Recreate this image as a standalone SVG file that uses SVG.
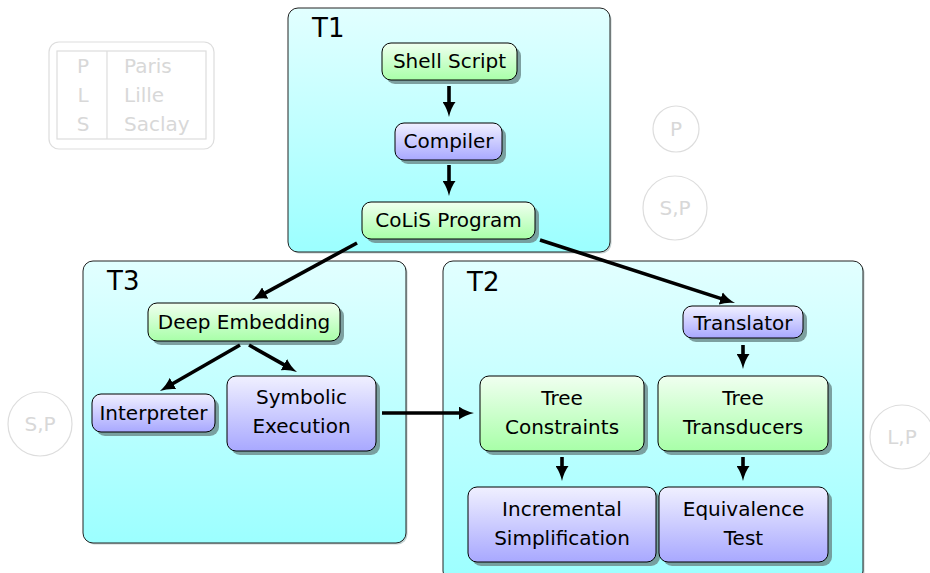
<svg xmlns="http://www.w3.org/2000/svg" width="930" height="573" viewBox="0 0 930 573">
<defs>
<linearGradient id="gBox" x1="0" y1="0" x2="0" y2="1"><stop offset="0" stop-color="#e2ffff"/><stop offset="1" stop-color="#9cffff"/></linearGradient>
<linearGradient id="gGreen" x1="0" y1="0" x2="0" y2="1"><stop offset="0" stop-color="#f0fff0"/><stop offset="1" stop-color="#a8ffa8"/></linearGradient>
<linearGradient id="gPurple" x1="0" y1="0" x2="0" y2="1"><stop offset="0" stop-color="#f0f0ff"/><stop offset="1" stop-color="#a8a8ff"/></linearGradient>
<marker id="ah" markerUnits="userSpaceOnUse" viewBox="0 0 15 13" refX="7" refY="6.5" markerWidth="15" markerHeight="13" orient="auto"><path d="M0,0 Q6,4.5 15,6.5 Q6,8.5 0,13 z" fill="#000"/></marker>
<style>
.box{fill:url(#gBox);stroke:#222;stroke-width:1}
.bshadow{fill:#7a9a9a;opacity:0.45}
.shadow{fill:#6f8f8f;opacity:0.85}
.green{fill:url(#gGreen);stroke:#000;stroke-width:1}
.purple{fill:url(#gPurple);stroke:#000;stroke-width:1}
text{font-family:"DejaVu Sans","Liberation Sans",sans-serif;fill:#000}
.t{font-size:20px;text-anchor:middle}
.title{font-size:26px}
.ghost{fill:none;stroke:#dddddd;stroke-width:1.2}
.gt{font-size:20px;fill:#d8d8d8;text-anchor:middle}
.gl{font-size:20px;fill:#d8d8d8}
.c{stroke:#000;stroke-width:3.6;fill:none;marker-end:url(#ah)}
</style>
</defs>

<g id="legend">
<rect class="ghost" x="49" y="42" width="165" height="107" rx="10"/>
<rect class="ghost" x="57" y="51" width="149" height="88"/>
<line class="ghost" x1="107" y1="51" x2="107" y2="139"/>
<text class="gt" x="83" y="73">P</text><text class="gl" x="124" y="73">Paris</text>
<text class="gt" x="83" y="102">L</text><text class="gl" x="124" y="102">Lille</text>
<text class="gt" x="83" y="131">S</text><text class="gl" x="124" y="131">Saclay</text>
</g>

<g id="circleP"><circle class="ghost" cx="676" cy="129" r="23"/><text class="gt" x="676" y="136">P</text></g>
<g id="circleSP1"><circle class="ghost" cx="675" cy="208" r="32"/><text class="gt" x="675" y="215">S,P</text></g>
<g id="circleSP2"><circle class="ghost" cx="40" cy="424" r="32"/><text class="gt" x="40" y="431">S,P</text></g>
<g id="circleLP"><circle class="ghost" cx="902" cy="437" r="32"/><text class="gt" x="902" y="444">L,P</text></g>

<g id="T1">
<rect class="bshadow" x="289.5" y="9.5" width="322" height="244" rx="10"/>
<rect class="box" x="288" y="8" width="322" height="244" rx="10"/>
<text class="title" x="312" y="37">T1</text>
</g>
<g id="T3">
<rect class="bshadow" x="84.5" y="262.5" width="323" height="282" rx="10"/>
<rect class="box" x="83" y="261" width="323" height="282" rx="10"/>
<text class="title" x="107" y="290">T3</text>
</g>
<g id="T2">
<rect class="bshadow" x="444.5" y="262.5" width="420" height="320" rx="10"/>
<rect class="box" x="443" y="261" width="420" height="320" rx="10"/>
<text class="title" x="467" y="291">T2</text>
</g>

<g id="shell">
<rect class="shadow" x="386" y="47" width="135" height="37" rx="9"/>
<rect class="green" x="382" y="43" width="135" height="37" rx="9"/>
<text class="t" x="449.5" y="68">Shell Script</text>
</g>
<g id="compiler">
<rect class="shadow" x="399" y="127" width="107" height="37" rx="9"/>
<rect class="purple" x="395" y="123" width="107" height="37" rx="9"/>
<text class="t" x="448.5" y="148">Compiler</text>
</g>
<g id="colis">
<rect class="shadow" x="366" y="206" width="173" height="37" rx="9"/>
<rect class="green" x="362" y="202" width="173" height="37" rx="9"/>
<text class="t" x="448.5" y="227">CoLiS Program</text>
</g>
<g id="deep">
<rect class="shadow" x="152" y="307" width="192" height="38" rx="9"/>
<rect class="green" x="148" y="303" width="192" height="38" rx="9"/>
<text class="t" x="244" y="329">Deep Embedding</text>
</g>
<g id="interpreter">
<rect class="shadow" x="96" y="398" width="123" height="38" rx="9"/>
<rect class="purple" x="92" y="394" width="123" height="38" rx="9"/>
<text class="t" x="153.5" y="420">Interpreter</text>
</g>
<g id="symbolic">
<rect class="shadow" x="231" y="380" width="149" height="75" rx="9"/>
<rect class="purple" x="227" y="376" width="149" height="75" rx="9"/>
<text class="t" x="301.5" y="404">Symbolic</text>
<text class="t" x="301.5" y="433">Execution</text>
</g>
<g id="translator">
<rect class="shadow" x="687" y="310" width="120" height="32" rx="9"/>
<rect class="purple" x="683" y="306" width="120" height="32" rx="9"/>
<text class="t" x="743" y="330">Translator</text>
</g>
<g id="treeconstraints">
<rect class="shadow" x="484" y="380" width="164" height="75" rx="9"/>
<rect class="green" x="480" y="376" width="164" height="75" rx="9"/>
<text class="t" x="562" y="405">Tree</text>
<text class="t" x="562" y="434">Constraints</text>
</g>
<g id="treetransducers">
<rect class="shadow" x="662" y="380" width="170" height="75" rx="9"/>
<rect class="green" x="658" y="376" width="170" height="75" rx="9"/>
<text class="t" x="743" y="405">Tree</text>
<text class="t" x="743" y="434">Transducers</text>
</g>
<g id="incremental">
<rect class="shadow" x="472" y="491" width="188" height="75" rx="9"/>
<rect class="purple" x="468" y="487" width="188" height="75" rx="9"/>
<text class="t" x="562" y="516">Incremental</text>
<text class="t" x="562" y="545">Simplification</text>
</g>
<g id="equivalence">
<rect class="shadow" x="663" y="491" width="169" height="75" rx="9"/>
<rect class="purple" x="659" y="487" width="169" height="75" rx="9"/>
<text class="t" x="743.5" y="516">Equivalence</text>
<text class="t" x="743.5" y="545">Test</text>
</g>

<g id="connectors">
<line class="c" x1="449" y1="86" x2="449" y2="109"/>
<line class="c" x1="449" y1="165" x2="449" y2="188"/>
<line class="c" x1="357" y1="243" x2="259.0" y2="296.3"/>
<line class="c" x1="540" y1="240" x2="727.4" y2="300.6"/>
<line class="c" x1="240" y1="345" x2="166.9" y2="387.0"/>
<line class="c" x1="249" y1="345" x2="290.0" y2="368.1"/>
<line class="c" x1="382" y1="413" x2="466" y2="413"/>
<line class="c" x1="743" y1="345" x2="743" y2="361"/>
<line class="c" x1="562" y1="457" x2="562" y2="473"/>
<line class="c" x1="743" y1="457" x2="743" y2="473"/>
</g>
</svg>
